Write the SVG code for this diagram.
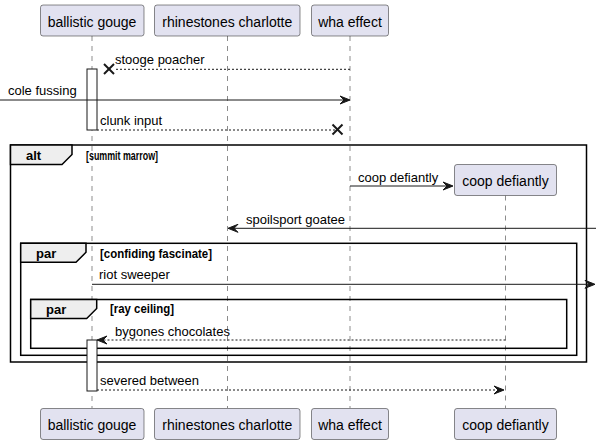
<svg xmlns="http://www.w3.org/2000/svg" width="601" height="445" viewBox="0 0 601 445">
<style>
.box{fill:#E2E2F0;stroke:#181818;stroke-width:0.5;}
.pt{font-family:"Liberation Sans",Arial,sans-serif;font-size:14px;fill:#000;text-anchor:middle;}
.life{stroke:#181818;stroke-width:0.5;stroke-dasharray:5,5;fill:none;}
.msg{stroke:#181818;stroke-width:1;fill:none;}
.dot{stroke:#181818;stroke-width:1;stroke-dasharray:2,2;fill:none;}
.mt{font-family:"Liberation Sans",Arial,sans-serif;font-size:13px;fill:#000;}
.ah{fill:#181818;stroke:#181818;stroke-width:1;}
.xx{stroke:#181818;stroke-width:2;}
.act{fill:#FFFFFF;stroke:#181818;stroke-width:1;}
.frame{fill:none;stroke:#000;stroke-width:1.5;}
.tab{fill:#EEEEEE;stroke:#000;stroke-width:1.5;}
.gl{font-family:"Liberation Sans",Arial,sans-serif;font-size:13px;font-weight:bold;fill:#000;}
.gc{font-family:"Liberation Sans",Arial,sans-serif;font-size:12px;font-weight:bold;fill:#000;}
</style>
<g id="lifelines">
<line class="life" x1="92" y1="36" x2="92" y2="408"/>
<line class="life" x1="227.5" y1="36" x2="227.5" y2="408"/>
<line class="life" x1="350" y1="36" x2="350" y2="408"/>
<line class="life" x1="505.5" y1="195.5" x2="505.5" y2="408"/>
</g>
<g id="groups">
<rect class="frame" x="10.5" y="145" width="576" height="217"/>
<polygon class="tab" points="10.5,145 72,145 72,154.5 62,164.5 10.5,164.5"/>
<text class="gl" x="26" y="159.7">alt</text>
<text class="gc" x="86" y="159.5" textLength="72" lengthAdjust="spacingAndGlyphs">[summit marrow]</text>
<rect class="frame" x="20.7" y="243.3" width="556" height="112"/>
<polygon class="tab" points="20.7,243.3 86,243.3 86,252.3 76,262.3 20.7,262.3"/>
<text class="gl" x="36" y="258.3">par</text>
<text class="gc" x="100" y="258" textLength="112" lengthAdjust="spacingAndGlyphs">[confiding fascinate]</text>
<rect class="frame" x="30.7" y="299.5" width="536" height="48.8"/>
<polygon class="tab" points="30.7,299.5 96.7,299.5 96.7,308.5 86.7,318.5 30.7,318.5"/>
<text class="gl" x="46" y="313.5">par</text>
<text class="gc" x="110" y="313.2" textLength="64" lengthAdjust="spacingAndGlyphs">[ray ceiling]</text>
</g>
<g id="activations">
<rect class="act" x="87" y="69" width="10" height="61"/>
<rect class="act" x="87" y="340" width="10" height="51"/>
</g>
<g id="connectors">
<line class="dot" x1="350" y1="69.3" x2="114" y2="69.3"/>
<line class="xx" x1="104" y1="64" x2="114" y2="74"/>
<line class="xx" x1="104" y1="74" x2="114" y2="64"/>
<text class="mt" x="115" y="64">stooge poacher</text>

<line class="msg" x1="0" y1="100" x2="348" y2="100"/>
<polygon class="ah" points="340,96 350,100 340,104 344,100"/>
<text class="mt" x="8" y="95">cole fussing</text>

<line class="dot" x1="97" y1="130" x2="338" y2="130"/>
<line class="xx" x1="332.5" y1="124.5" x2="342.5" y2="134.5"/>
<line class="xx" x1="332.5" y1="134.5" x2="342.5" y2="124.5"/>
<text class="mt" x="100" y="125">clunk input</text>

<line class="msg" x1="350" y1="186" x2="451" y2="186"/>
<polygon class="ah" points="443,182 453,186 443,190 447,186"/>
<text class="mt" x="358" y="181.5">coop defiantly</text>

<line class="msg" x1="596" y1="228.3" x2="230" y2="228.3"/>
<polygon class="ah" points="238,224.3 228,228.3 238,232.3 234,228.3"/>
<text class="mt" x="246" y="224">spoilsport goatee</text>

<line class="msg" x1="92" y1="284.3" x2="593" y2="284.3"/>
<polygon class="ah" points="585,280.3 595,284.3 585,288.3 589,284.3"/>
<text class="mt" x="99" y="279">riot sweeper</text>

<line class="dot" x1="505.5" y1="340" x2="99" y2="340"/>
<polygon class="ah" points="107,336 97,340 107,344 103,340"/>
<text class="mt" x="115" y="335.5">bygones chocolates</text>

<line class="dot" x1="97" y1="390" x2="502" y2="390"/>
<polygon class="ah" points="494,386 504,390 494,394 498,390"/>
<text class="mt" x="100" y="385">severed between</text>
</g>
<g id="p-ballistic">
<rect class="box" x="40.5" y="5" width="103.5" height="31" rx="2.5"/>
<text class="pt" x="92" y="26.5">ballistic gouge</text>
<rect class="box" x="40.5" y="408.5" width="103.5" height="31" rx="2.5"/>
<text class="pt" x="92" y="430">ballistic gouge</text>
</g>
<g id="p-rhinestones">
<rect class="box" x="154.5" y="5" width="145.5" height="31" rx="2.5"/>
<text class="pt" x="227.3" y="26.5">rhinestones charlotte</text>
<rect class="box" x="154.5" y="408.5" width="145.5" height="31" rx="2.5"/>
<text class="pt" x="227.3" y="430">rhinestones charlotte</text>
</g>
<g id="p-wha">
<rect class="box" x="311.5" y="5" width="77" height="31" rx="2.5"/>
<text class="pt" x="350" y="26.5">wha effect</text>
<rect class="box" x="311.5" y="408.5" width="77" height="31" rx="2.5"/>
<text class="pt" x="350" y="430">wha effect</text>
</g>
<g id="p-coop">
<rect class="box" x="454.5" y="164.5" width="102" height="31" rx="2.5"/>
<text class="pt" x="505.5" y="186">coop defiantly</text>
<rect class="box" x="454.5" y="408.5" width="102" height="31" rx="2.5"/>
<text class="pt" x="505.5" y="430">coop defiantly</text>
</g>
</svg>
